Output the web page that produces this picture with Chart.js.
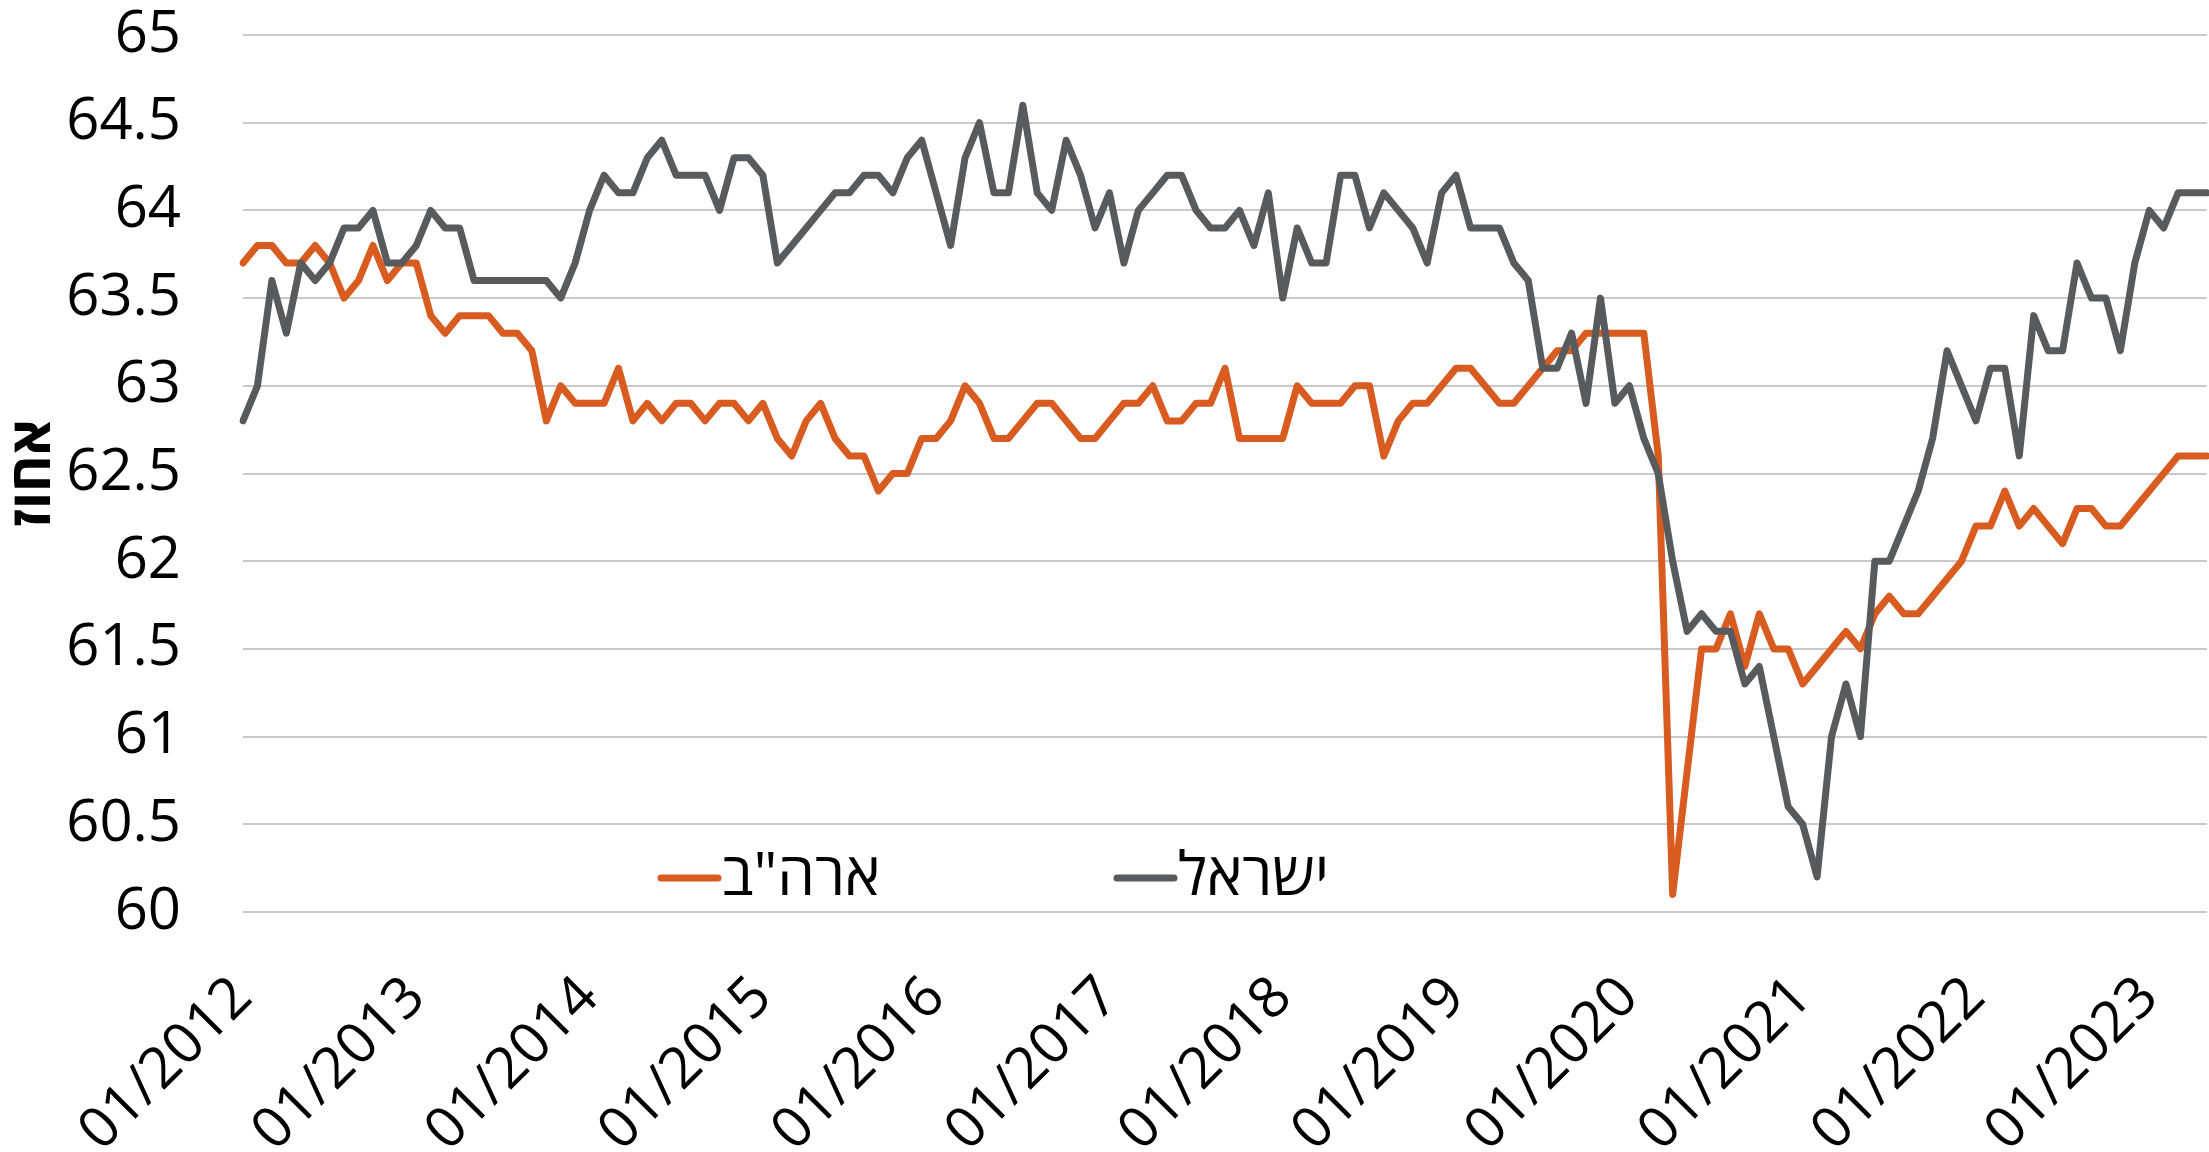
<!DOCTYPE html>
<html>
<head>
<meta charset="utf-8">
<script src="https://cdn.jsdelivr.net/npm/chart.js@4.4.0/dist/chart.umd.min.js"></script>
<style>
    html, body { margin: 0; padding: 0; background: #ffffff; overflow: hidden; }
    #chart-container { width: 2209px; height: 1152px; }
</style>
</head>
<body>
<div id="chart-container"><canvas id="myLineChart"></canvas></div>
<script>
// Monthly data, 01/2012 - 05/2023
var firstYear = 2012;
var yearTicks = ['01/2012', '01/2013', '01/2014', '01/2015', '01/2016', '01/2017',
                 '01/2018', '01/2019', '01/2020', '01/2021', '01/2022', '01/2023'];
var yTicks = [60, 60.5, 61, 61.5, 62, 62.5, 63, 63.5, 64, 64.5, 65];
var seriesNames = ['ישראל', 'ארה"ב'];
var seriesColors = ['#575b5e', '#d85b20'];

var israel = [
    62.8, 63.0, 63.6, 63.3, 63.7, 63.6, 63.7, 63.9, 63.9, 64.0, 63.7, 63.7,
    63.8, 64.0, 63.9, 63.9, 63.6, 63.6, 63.6, 63.6, 63.6, 63.6, 63.5, 63.7,
    64.0, 64.2, 64.1, 64.1, 64.3, 64.4, 64.2, 64.2, 64.2, 64.0, 64.3, 64.3,
    64.2, 63.7, 63.8, 63.9, 64.0, 64.1, 64.1, 64.2, 64.2, 64.1, 64.3, 64.4,
    64.1, 63.8, 64.3, 64.5, 64.1, 64.1, 64.6, 64.1, 64.0, 64.4, 64.2, 63.9,
    64.1, 63.7, 64.0, 64.1, 64.2, 64.2, 64.0, 63.9, 63.9, 64.0, 63.8, 64.1,
    63.5, 63.9, 63.7, 63.7, 64.2, 64.2, 63.9, 64.1, 64.0, 63.9, 63.7, 64.1,
    64.2, 63.9, 63.9, 63.9, 63.7, 63.6, 63.1, 63.1, 63.3, 62.9, 63.5, 62.9,
    63.0, 62.7, 62.5, 62.0, 61.6, 61.7, 61.6, 61.6, 61.3, 61.4, 61.0, 60.6,
    60.5, 60.2, 61.0, 61.3, 61.0, 62.0, 62.0, 62.2, 62.4, 62.7, 63.2, 63.0,
    62.8, 63.1, 63.1, 62.6, 63.4, 63.2, 63.2, 63.7, 63.5, 63.5, 63.2, 63.7,
    64.0, 63.9, 64.1, 64.1, 64.1
];

var usa = [
    63.7, 63.8, 63.8, 63.7, 63.7, 63.8, 63.7, 63.5, 63.6, 63.8, 63.6, 63.7,
    63.7, 63.4, 63.3, 63.4, 63.4, 63.4, 63.3, 63.3, 63.2, 62.8, 63.0, 62.9,
    62.9, 62.9, 63.1, 62.8, 62.9, 62.8, 62.9, 62.9, 62.8, 62.9, 62.9, 62.8,
    62.9, 62.7, 62.6, 62.8, 62.9, 62.7, 62.6, 62.6, 62.4, 62.5, 62.5, 62.7,
    62.7, 62.8, 63.0, 62.9, 62.7, 62.7, 62.8, 62.9, 62.9, 62.8, 62.7, 62.7,
    62.8, 62.9, 62.9, 63.0, 62.8, 62.8, 62.9, 62.9, 63.1, 62.7, 62.7, 62.7,
    62.7, 63.0, 62.9, 62.9, 62.9, 63.0, 63.0, 62.6, 62.8, 62.9, 62.9, 63.0,
    63.1, 63.1, 63.0, 62.9, 62.9, 63.0, 63.1, 63.2, 63.2, 63.3, 63.3, 63.3,
    63.3, 63.3, 62.6, 60.1, 60.8, 61.5, 61.5, 61.7, 61.4, 61.7, 61.5, 61.5,
    61.3, 61.4, 61.5, 61.6, 61.5, 61.7, 61.8, 61.7, 61.7, 61.8, 61.9, 62.0,
    62.2, 62.2, 62.4, 62.2, 62.3, 62.2, 62.1, 62.3, 62.3, 62.2, 62.2, 62.3,
    62.4, 62.5, 62.6, 62.6, 62.6
];

// month labels mm/yyyy, one per data point
var labels = [];
for (var i = 0; i < israel.length; i++) {
    var m = (i % 12) + 1;
    labels.push((m < 10 ? '0' + m : '' + m) + '/' + (firstYear + Math.floor(i / 12)));
}

var fontFamily = "'Open Sans', 'Liberation Sans', sans-serif";
Chart.defaults.font.family = fontFamily;
Chart.defaults.color = '#000000';

// legend sits inside the plot, US first
var insideLegend = {
    id: 'insideLegend',
    afterDatasetsDraw: function (chart) {
        var ctx = chart.ctx;
        var area = chart.chartArea;
        var order = [1, 0];
        var xs = [area.left + 418, area.left + 874];
        var y = area.bottom - 34;
        ctx.save();
        ctx.font = '60px ' + fontFamily;
        ctx.textBaseline = 'middle';
        ctx.textAlign = 'left';
        order.forEach(function (d, k) {
            var ds = chart.data.datasets[d];
            ctx.strokeStyle = ds.borderColor;
            ctx.lineWidth = 7;
            ctx.lineCap = 'round';
            ctx.beginPath();
            ctx.moveTo(xs[k], y);
            ctx.lineTo(xs[k] + 57, y);
            ctx.stroke();
            ctx.fillStyle = '#000000';
            ctx.fillText(ds.label, xs[k] + 61, y);
        });
        ctx.restore();
    }
};

var config = {
    type: 'line',
    data: {
        labels: labels,
        datasets: [{
            label: seriesNames[0],
            data: israel,
            borderColor: seriesColors[0],
            backgroundColor: seriesColors[0],
            fill: false
        }, {
            label: seriesNames[1],
            data: usa,
            borderColor: seriesColors[1],
            backgroundColor: seriesColors[1],
            fill: false
        }]
    },
    options: {
        responsive: true,
        maintainAspectRatio: false,
        animation: false,
        layout: { padding: { top: 0, right: 2, bottom: 0, left: 0 } },
        elements: {
            line: { tension: 0, borderWidth: 7, borderJoinStyle: 'round', borderCapStyle: 'round' },
            point: { radius: 0 }
        },
        plugins: {
            legend: { display: false },
            tooltip: { enabled: false }
        },
        scales: {
            x: {
                grid: { display: false },
                border: { display: false },
                ticks: {
                    autoSkip: false,
                    maxRotation: 45,
                    minRotation: 45,
                    padding: 44,
                    font: { size: 57 },
                    callback: function (value) {
                        var l = this.getLabelForValue(value);
                        return yearTicks.indexOf(l) >= 0 ? l : '';
                    }
                },
                afterFit: function (scale) {
                    scale.height = 240;
                    scale.paddingLeft = 0;
                    scale.paddingRight = 0;
                }
            },
            y: {
                min: 60,
                max: 65,
                afterBuildTicks: function (scale) {
                    scale.ticks = yTicks.map(function (v) { return { value: v }; });
                },
                grid: { color: '#c9c9c9', lineWidth: 2, drawTicks: false },
                border: { display: false },
                ticks: {
                    padding: 62,
                    font: { size: 58 },
                    callback: function (value) { return String(value); }
                },
                title: { display: true, text: 'אחוז', font: { size: 56, weight: 'bold' }, padding: 0 },
                afterFit: function (scale) {
                    scale.width = 243;
                    scale.paddingTop = 35;
                    scale.paddingBottom = 0;
                }
            }
        }
    },
    plugins: [insideLegend]
};

var ctx = document.getElementById('myLineChart').getContext('2d');
var myLineChart = new Chart(ctx, config);
</script>
</body>
</html>
